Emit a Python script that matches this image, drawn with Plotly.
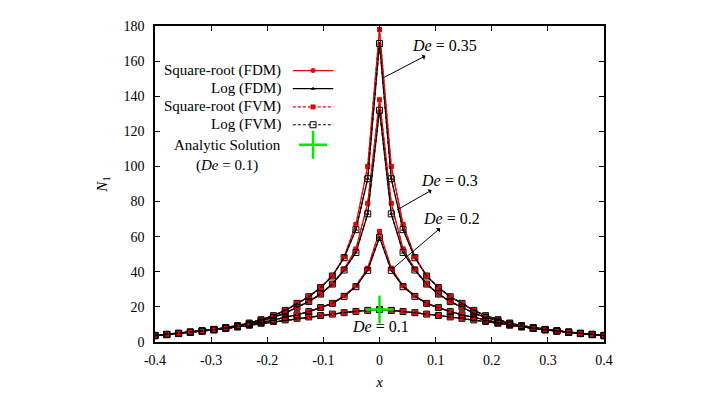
import plotly.graph_objects as go

# ---------------- data ----------------
X = [-0.400, -0.379, -0.358, -0.337, -0.316, -0.295, -0.274, -0.253, -0.232, -0.211,
     -0.189, -0.168, -0.147, -0.126, -0.105, -0.084, -0.063, -0.042, -0.021, 0.000,
     0.021, 0.042, 0.063, 0.084, 0.105, 0.126, 0.147, 0.168, 0.189, 0.211,
     0.232, 0.253, 0.274, 0.295, 0.316, 0.337, 0.358, 0.379, 0.400]

LOG_01 = [3.6, 4.2, 4.8, 5.5, 6.2, 6.9, 7.7, 8.6, 9.6, 10.7, 11.7, 12.6, 13.5, 14.3, 15.1, 15.9, 16.7, 17.4, 18.0,
          18.5,
          18.0, 17.4, 16.7, 15.9, 15.1, 14.3, 13.5, 12.6, 11.7, 10.7, 9.6, 8.6, 7.7, 6.9, 6.2, 5.5, 4.8, 4.2, 3.6]
SQRT_01 = [3.6, 4.2, 4.8, 5.5, 6.2, 6.9, 7.7, 8.6, 9.6, 10.7, 11.7, 12.6, 13.5, 14.3, 15.1, 15.9, 16.7, 17.5, 18.1,
           18.8,
           18.1, 17.5, 16.7, 15.9, 15.1, 14.3, 13.5, 12.6, 11.7, 10.7, 9.6, 8.6, 7.7, 6.9, 6.2, 5.5, 4.8, 4.2, 3.6]

LOG_02 = [3.6, 4.2, 4.8, 5.5, 6.2, 7.0, 7.8, 8.7, 9.8, 11.0, 12.4, 13.9, 15.5, 17.3, 19.6, 22.0, 26.0, 31.5, 40.8,
          59.6,
          40.8, 31.5, 26.0, 22.0, 19.6, 17.3, 15.5, 13.9, 12.4, 11.0, 9.8, 8.7, 7.8, 7.0, 6.2, 5.5, 4.8, 4.2, 3.6]
SQRT_02 = [3.6, 4.2, 4.8, 5.5, 6.2, 7.0, 7.8, 8.7, 9.8, 11.0, 12.4, 13.9, 15.5, 17.3, 19.6, 22.0, 26.3, 32.0, 42.0,
           63.0,
           42.0, 32.0, 26.3, 22.0, 19.6, 17.3, 15.5, 13.9, 12.4, 11.0, 9.8, 8.7, 7.8, 7.0, 6.2, 5.5, 4.8, 4.2, 3.6]

LOG_03 = [3.7, 4.3, 4.9, 5.6, 6.3, 7.1, 8.0, 9.0, 10.3, 12.0, 14.0, 16.5, 19.8, 23.0, 27.3, 33.0, 41.0, 51.0, 73.0,
          132.0,
          73.0, 51.0, 41.0, 33.0, 27.3, 23.0, 19.8, 16.5, 14.0, 12.0, 10.3, 9.0, 8.0, 7.1, 6.3, 5.6, 4.9, 4.3, 3.7]
SQRT_03 = [3.7, 4.3, 4.9, 5.6, 6.3, 7.1, 8.0, 9.0, 10.3, 12.0, 14.0, 16.5, 19.8, 23.0, 27.3, 33.0, 41.5, 53.0, 79.0,
           138.0,
           79.0, 53.0, 41.5, 33.0, 27.3, 23.0, 19.8, 16.5, 14.0, 12.0, 10.3, 9.0, 8.0, 7.1, 6.3, 5.6, 4.9, 4.3, 3.7]

LOG_035 = [3.8, 4.4, 5.0, 5.7, 6.4, 7.2, 8.2, 9.3, 10.8, 12.7, 15.0, 18.0, 22.0, 25.8, 31.0, 37.6, 48.0, 64.0, 93.0,
           170.0,
           93.0, 64.0, 48.0, 37.6, 31.0, 25.8, 22.0, 18.0, 15.0, 12.7, 10.8, 9.3, 8.2, 7.2, 6.4, 5.7, 5.0, 4.4, 3.8]
SQRT_035 = [3.8, 4.4, 5.0, 5.7, 6.4, 7.2, 8.2, 9.3, 10.8, 12.7, 15.0, 18.0, 22.0, 25.8, 31.0, 37.6, 48.5, 67.0, 100.0,
            178.0,
            100.0, 67.0, 48.5, 37.6, 31.0, 25.8, 22.0, 18.0, 15.0, 12.7, 10.8, 9.3, 8.2, 7.2, 6.4, 5.7, 5.0, 4.4, 3.8]

ANALYTIC_X = [0.0]
ANALYTIC_Y = [18.5]

X_TICKS = [-0.4, -0.3, -0.2, -0.1, 0, 0.1, 0.2, 0.3, 0.4]
X_TICKTEXT = ["-0.4", "-0.3", "-0.2", "-0.1", "0", "0.1", "0.2", "0.3", "0.4"]
Y_TICKS = [0, 20, 40, 60, 80, 100, 120, 140, 160, 180]

SERIES_LABELS = ["Square-root (FDM)", "Log (FDM)", "Square-root (FVM)", "Log (FVM)"]

# ---------------- style ----------------
FONT = "Liberation Serif, Times New Roman, serif"
RED = "rgb(240,0,0)"
BLACK = "black"
GREEN = "rgb(0,235,0)"

STYLES = [
    dict(line=dict(color=RED, width=1.2), marker=dict(symbol="circle", size=5, color=RED)),
    dict(line=dict(color=BLACK, width=1.2), marker=dict(symbol="triangle-up", size=4, color=BLACK)),
    dict(line=dict(color=RED, width=1.2, dash="3px,2px"), marker=dict(symbol="square", size=5, color=RED)),
    dict(line=dict(color=BLACK, width=1.2, dash="3px,2px"),
         marker=dict(symbol="square-open", size=6, color=BLACK, line=dict(width=1))),
]

fig = go.Figure()

curves = [(SQRT_035, LOG_035), (SQRT_03, LOG_03), (SQRT_02, LOG_02), (SQRT_01, LOG_01)]
for si in range(4):
    for sq, lg in curves:
        ys = sq if si in (0, 2) else lg
        fig.add_trace(go.Scatter(x=X, y=ys, mode="lines+markers", showlegend=False,
                                 line=STYLES[si]["line"], marker=STYLES[si]["marker"],
                                 hoverinfo="skip"))

fig.add_trace(go.Scatter(x=ANALYTIC_X, y=ANALYTIC_Y, mode="markers", showlegend=False,
                         marker=dict(symbol="cross-thin", size=20, color=GREEN,
                                     line=dict(color=GREEN, width=2.5))))

# ---------------- custom gnuplot-style key (text left, sample right) ----------------
KEY_TEXT_X = 0.285
KEY_X0, KEY_X1, KEY_XM = 0.307, 0.397, 0.352
KEY_ROWS = [0.859, 0.8016, 0.7439, 0.6875]
KEY_ANALYTIC_Y = 0.624

KEYTXT = dict(family=FONT, size=15, color="black")
LBLTXT = dict(family=FONT, size=16, color="black")

for i, lab in enumerate(SERIES_LABELS):
    fig.add_trace(go.Scatter(x=[KEY_X0, KEY_X1], y=[KEY_ROWS[i]] * 2, mode="lines",
                             line=STYLES[i]["line"], xaxis="x2", yaxis="y2",
                             showlegend=False, hoverinfo="skip"))
    fig.add_trace(go.Scatter(x=[KEY_XM], y=[KEY_ROWS[i]], mode="markers",
                             marker=STYLES[i]["marker"], xaxis="x2", yaxis="y2",
                             showlegend=False, hoverinfo="skip"))
    fig.add_annotation(x=KEY_TEXT_X, y=KEY_ROWS[i], xref="x2", yref="y2", text=lab,
                       showarrow=False, xanchor="right", yanchor="middle", font=KEYTXT)
fig.add_trace(go.Scatter(x=[KEY_XM], y=[KEY_ANALYTIC_Y], mode="markers", xaxis="x2", yaxis="y2",
                         marker=dict(symbol="cross-thin", size=20, color=GREEN,
                                     line=dict(color=GREEN, width=2.5)),
                         showlegend=False, hoverinfo="skip"))
fig.add_annotation(x=KEY_TEXT_X, y=KEY_ANALYTIC_Y, xref="x2", yref="y2",
                   text="Analytic Solution<br>(<i>De</i> = 0.1)", align="center",
                   showarrow=False, xanchor="right", yanchor="top", yshift=10, font=KEYTXT)

# ---------------- De labels with arrows (arrow tail on curve, head at label) ----------------
LABELS = [
    ("<i>De</i> = 0.35", (0.116, 168.7), (0.0068, 150.5)),
    ("<i>De</i> = 0.3", (0.124, 92.2), (0.031, 75.2)),
    ("<i>De</i> = 0.2", (0.129, 70.5), (0.022, 41.4)),
]
for txt, (tx, ty), (px, py) in LABELS:
    fig.add_annotation(x=px, y=py, ax=tx, ay=ty, axref="x", ayref="y", text=txt,
                       showarrow=True, arrowside="start", arrowhead=2, arrowsize=1.3,
                       arrowwidth=1, arrowcolor="black", font=LBLTXT)
fig.add_annotation(x=0.002, y=9, text="<i>De</i> = 0.1", showarrow=False,
                   xanchor="center", yanchor="middle", font=LBLTXT)

axis_common = dict(showline=True, linecolor="black", linewidth=1.5, mirror="ticks",
                   ticks="inside", ticklen=5, tickwidth=1, tickcolor="black",
                   showgrid=False, zeroline=False,
                   tickfont=dict(family=FONT, size=14, color="black"))

fig.update_layout(
    width=715, height=400,
    margin=dict(l=155, r=111, t=26, b=55),
    paper_bgcolor="white", plot_bgcolor="white",
    showlegend=False,
    font=dict(family=FONT, color="black"),
    xaxis=dict(range=[-0.4, 0.4], tickvals=X_TICKS, ticktext=X_TICKTEXT,
               title=dict(text="<i>x</i>", font=dict(family=FONT, size=15, color="black"), standoff=10),
               ticklabelstandoff=4, **axis_common),
    yaxis=dict(range=[0, 180], tickvals=Y_TICKS,
               title=dict(text="<i>N</i><sub>1</sub>", font=dict(family=FONT, size=15, color="black"),
                          standoff=12),
               ticklabelstandoff=6, **axis_common),
    xaxis2=dict(range=[0, 1], overlaying="x", visible=False, anchor="y2"),
    yaxis2=dict(range=[0, 1], overlaying="y", visible=False, anchor="x2"),
)

fig.write_html("out.html")
